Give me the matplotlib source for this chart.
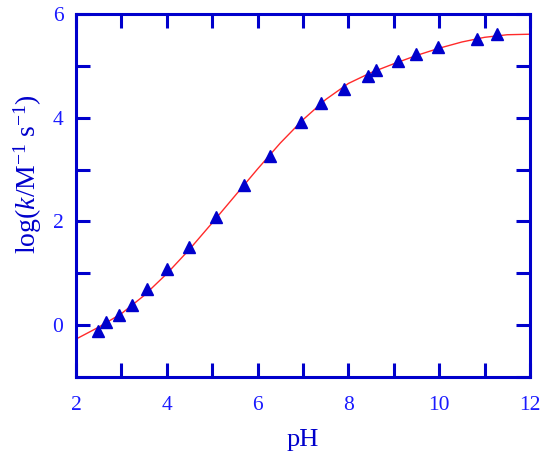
import matplotlib.pyplot as plt
from matplotlib.ticker import MultipleLocator

plt.rcParams["font.family"] = ["Liberation Serif", "DejaVu Serif"]
plt.rcParams["mathtext.fontset"] = "custom"
plt.rcParams["mathtext.rm"] = "Liberation Serif"
plt.rcParams["mathtext.it"] = "Liberation Serif:italic"

# measured data points
ph_data = [2.48, 2.67, 2.94, 3.24, 3.56, 4.00, 4.49, 5.08, 5.71, 6.28,
           6.95, 7.40, 7.90, 8.43, 8.61, 9.09, 9.49, 9.97, 10.83, 11.27]
logk_data = [-0.11, 0.06, 0.20, 0.39, 0.70, 1.09, 1.51, 2.08, 2.71, 3.26,
             3.91, 4.28, 4.56, 4.81, 4.92, 5.09, 5.22, 5.37, 5.51, 5.61]

# fitted curve
ph_fit = [2.0, 2.5, 3.0, 3.5, 4.0, 4.5, 5.0, 5.5, 6.0, 6.5, 7.0,
          7.5, 8.0, 8.5, 9.0, 9.5, 10.0, 10.5, 11.0, 11.5, 12.0]
logk_fit = [-0.27, -0.04, 0.22, 0.57, 0.99, 1.46, 1.97, 2.49, 3.01, 3.51, 3.96,
            4.35, 4.66, 4.87, 5.04, 5.20, 5.34, 5.46, 5.55, 5.60, 5.61]

AX_COLOR = "#0000cc"
TICK_COLOR = "#1a1aff"

fig = plt.figure(figsize=(5.5, 4.71), dpi=100)
ax = fig.add_axes([0.138, 0.1996, 0.8256, 0.7707])

ax.plot(ph_fit, logk_fit, color="#ff2a2a", linewidth=1.0)
ax.plot(ph_data, logk_data, linestyle="none", marker="^", markersize=8,
        color="#0000cc")

ax.set_xlim(2, 12)
ax.set_ylim(-1, 6)
ax.xaxis.set_major_locator(MultipleLocator(2))
ax.xaxis.set_minor_locator(MultipleLocator(1))
ax.yaxis.set_major_locator(MultipleLocator(2))
ax.yaxis.set_minor_locator(MultipleLocator(1))

for s in ax.spines.values():
    s.set_color(AX_COLOR)
    s.set_linewidth(2.2)

ax.tick_params(which="both", direction="in", top=True, right=True,
               color=AX_COLOR, width=2.2, length=10,
               labelcolor=TICK_COLOR, labelsize=15.5)
ax.tick_params(axis="x", pad=14)
ax.tick_params(axis="y", pad=9)

ax.set_xlabel("pH", fontsize=19, color=AX_COLOR, labelpad=10)
ax.set_ylabel(r"$\mathrm{log(}k\mathrm{/M}^{\mathrm{-1}}\ \mathrm{s}^{\mathrm{-1}}\mathrm{)}$",
              fontsize=20, color=AX_COLOR, labelpad=6)
ax.yaxis.label.set_y(0.56)

fig.savefig("out.png", dpi=100)
